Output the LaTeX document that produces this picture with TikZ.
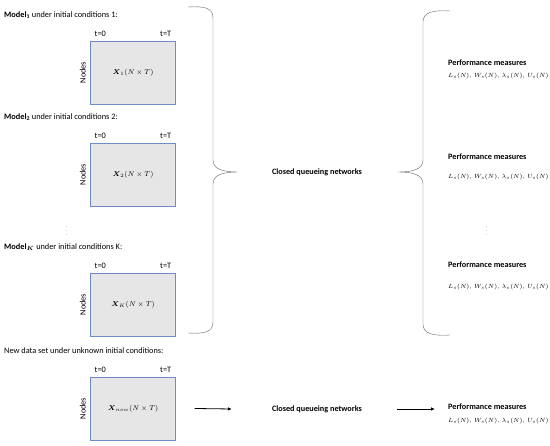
\documentclass[tikz,border=0pt]{standalone}
\usepackage{amsmath,amssymb}
\usepackage{fontspec}
\setmainfont{Carlito}
\usetikzlibrary{arrows.meta}
\definecolor{matblue}{RGB}{110,140,200}
\definecolor{matgray}{RGB}{230,230,230}
\tikzset{
 lbl/.style={inner sep=0pt,font=\fontsize{8.3}{9}\selectfont},
 hd/.style={inner sep=0pt,font=\fontsize{8.2}{9}\selectfont\bfseries},
 eq/.style={inner sep=0pt,font=\fontsize{6}{7}\selectfont},
 mat/.style={draw=matblue,fill=matgray,minimum width=85pt,minimum height=63pt,inner sep=0pt,font=\fontsize{6.8}{8}\selectfont},
 arr/.style={-{Latex[length=4pt,width=3.5pt]},thick}
}
\begin{document}
\begin{tikzpicture}[x=1pt,y=-1pt]
\useasboundingbox(0,0)rectangle(550,446);
\node[lbl,anchor=west](m1)at(4,15){\textbf{Model$_{\mathbf{1}}$} under initial conditions 1:};
\node[lbl,anchor=west](m2)at(4,117){\textbf{Model$_{\mathbf{2}}$} under initial conditions 2:};
\node[inner sep=0pt,font=\fontsize{4}{4}\selectfont](d1)at(67,228){$\vdots$};
\node[lbl,anchor=west](mk)at(4,247){\textbf{Model$_{\boldsymbol{K}}$} under initial conditions K:};
\node[lbl,anchor=west](mn)at(4,351){New data set under unknown initial conditions:};
\node[mat](x1)at(133,72.5){$\boldsymbol{X}_1(N\times T)$};
\node[mat](x2)at(133,174.5){$\boldsymbol{X}_2(N\times T)$};
\node[mat](xk)at(133,304.5){$\boldsymbol{X}_K(N\times T)$};
\node[mat](xn)at(133,408.5){$\boldsymbol{X}_{new}(N\times T)$};
\foreach \b in {x1,x2,xk,xn}{
 \node[lbl]at([xshift=10pt,yshift=7pt]\b.north west){t=0};
 \node[lbl]at([xshift=-10pt,yshift=7pt]\b.north east){t=T};
 \node[lbl,rotate=90]at([xshift=-7.5pt]\b.west){Nodes};
}
\draw[thin,gray!80!black](188,7)..controls(205,6)and(213,8)..(213,18)--(213,160)
 ..controls(213,170)and(225,172)..(238,172)..controls(225,172)and(213,174)..(213,184)
 --(213,322)..controls(213,332)and(205,334)..(188,333);
\node[hd](c1)at(317,172){Closed queueing networks};
\draw[thin,gray!80!black](450,11)..controls(433,10)and(423,12)..(423,22)--(423,160)
 ..controls(423,170)and(411,172)..(398,172)..controls(411,172)and(423,174)..(423,184)
 --(423,324)..controls(423,334)and(433,336)..(450,335);
\node[hd,anchor=west](p1)at(448,63){Performance measures};
\node[eq,anchor=west](l1)at(448,76){$L_s(N),\,W_s(N),\,\lambda_s(N),\,U_s(N)$};
\node[hd,anchor=west](p2)at(448,157){Performance measures};
\node[eq,anchor=west](l2)at(448,177){$L_s(N),\,W_s(N),\,\lambda_s(N),\,U_s(N)$};
\node[inner sep=0pt,font=\fontsize{4}{4}\selectfont](d2)at(487,228){$\vdots$};
\node[hd,anchor=west](p3)at(448,265){Performance measures};
\node[eq,anchor=west](l3)at(448,287){$L_s(N),\,W_s(N),\,\lambda_s(N),\,U_s(N)$};
\node[hd](c2)at(317,409){Closed queueing networks};
\node[hd,anchor=west](p4)at(448,407){Performance measures};
\node[eq,anchor=west](l4)at(448,421){$L_s(N),\,W_s(N),\,\lambda_s(N),\,U_s(N)$};
\draw[arr]([xshift=19pt]xn.east)--([xshift=-40pt]c2.west);
\draw[arr]([xshift=35pt]c2.east)--(435,409);
\end{tikzpicture}
\end{document}
